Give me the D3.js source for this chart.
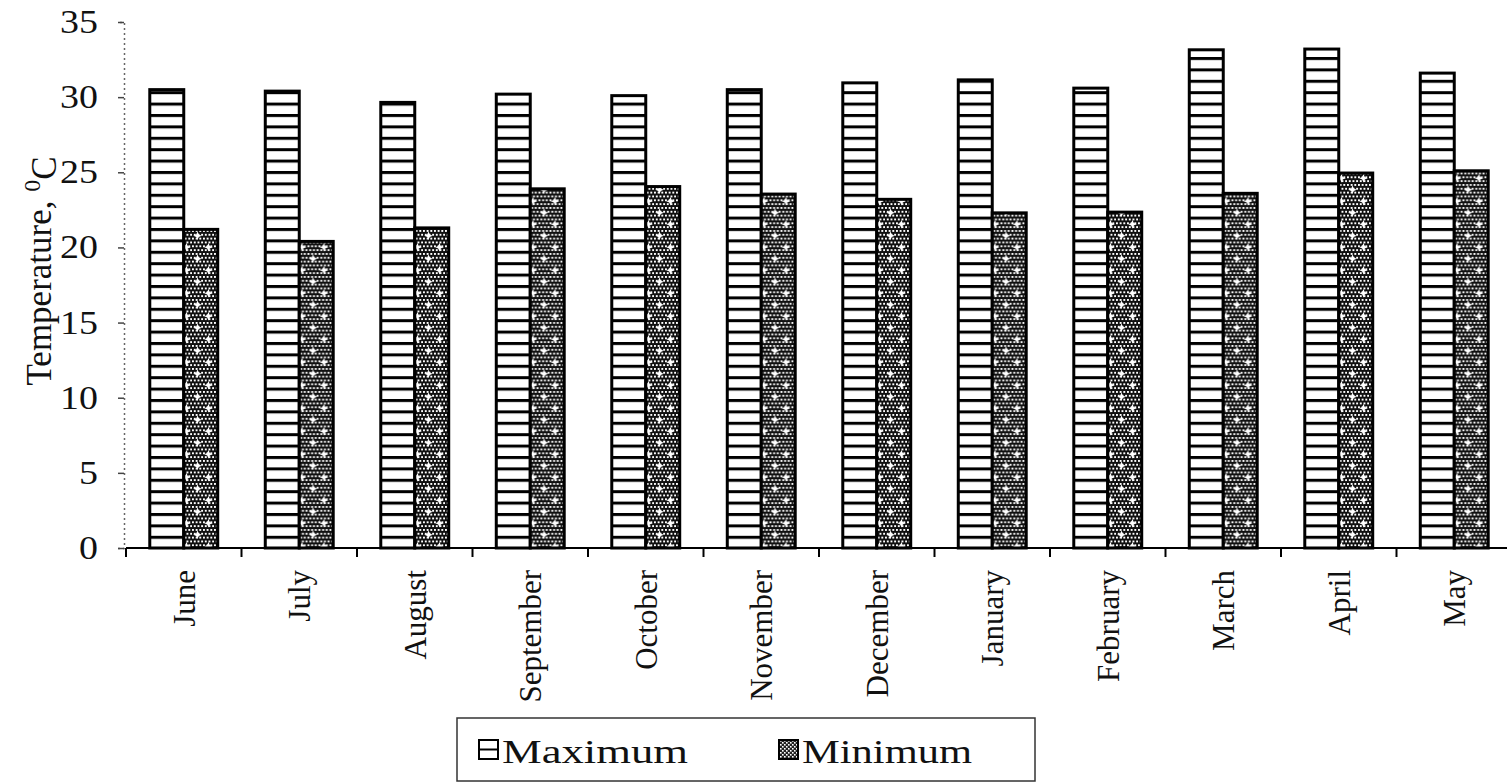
<!DOCTYPE html>
<html>
<head>
<meta charset="utf-8">
<script src="https://cdn.jsdelivr.net/npm/d3@7"></script>
<style>
html,body{margin:0;padding:0;background:#fff;}
svg{display:block;}
text{font-family:"Liberation Serif","Times New Roman",serif;fill:#111;}
</style>
</head>
<body>
<svg id="chart" width="1507" height="784"></svg>
<script>
const months = ["June","July","August","September","October","November","December","January","February","March","April","May"];
const maxTemp = [30.5, 30.4, 29.65, 30.2, 30.1, 30.5, 30.95, 31.15, 30.6, 33.15, 33.2, 31.6];
const minTemp = [21.2, 20.4, 21.3, 23.9, 24.05, 23.55, 23.2, 22.3, 22.35, 23.6, 24.95, 25.1];
const seriesNames = ["Maximum","Minimum"];
const yTicks = [0,5,10,15,20,25,30,35];

const svg = d3.select("#chart");
const defs = svg.append("defs");

// horizontal-stripe pattern (Maximum)
const pMax = defs.append("pattern").attr("id","pMax").attr("patternUnits","userSpaceOnUse")
  .attr("width",10).attr("height",11.4);
pMax.append("rect").attr("width",10).attr("height",11.4).attr("fill","#fff");
pMax.append("rect").attr("x",0).attr("y",0).attr("width",10).attr("height",3).attr("fill","#000");

// dense crosshatch with white stars (Minimum)
const pMin = defs.append("pattern").attr("id","pMin").attr("patternUnits","userSpaceOnUse")
  .attr("width",22).attr("height",23);
pMin.append("rect").attr("width",22).attr("height",23).attr("fill","#101010");
const dots = [];
for (let j=0;j<6;j++) for (let i=0;i<6;i++) dots.push([i*3.667 + (j%2)*1.833, j*3.833]);
pMin.selectAll("rect.d").data(dots).enter().append("rect").attr("class","d")
  .attr("x",d=>d[0]).attr("y",d=>d[1]).attr("width",1.9).attr("height",1.9).attr("fill","#fff");
const star = (cx,cy,r)=>`M${cx},${cy-r} L${cx+1.3},${cy-1.3} L${cx+r},${cy} L${cx+1.3},${cy+1.3} L${cx},${cy+r} L${cx-1.3},${cy+1.3} L${cx-r},${cy} L${cx-1.3},${cy-1.3} Z`;
pMin.append("path").attr("d",star(5.5,5.75,4.2)).attr("fill","#fff");
pMin.append("path").attr("d",star(16.5,17.25,4.2)).attr("fill","#fff");

// legend-size pattern
const lMin = defs.append("pattern").attr("id","lMin").attr("patternUnits","userSpaceOnUse")
  .attr("width",4).attr("height",4);
lMin.append("rect").attr("width",4).attr("height",4).attr("fill","#222");
lMin.append("rect").attr("x",0).attr("y",0).attr("width",1.6).attr("height",1.6).attr("fill","#fff");
lMin.append("rect").attr("x",2).attr("y",2).attr("width",1.6).attr("height",1.6).attr("fill","#fff");

const x0 = 126, step = 115.5;
const x = d3.scaleBand().domain(months).range([x0, x0 + step*months.length]).paddingInner(0).paddingOuter(0);
const xs = d3.scaleBand().domain(seriesNames).range([0, x.bandwidth()]).paddingInner(0).paddingOuter(0.7);
const y = d3.scaleLinear().domain([0,35]).range([548,22]);

const data = months.map((m,i)=>({month:m, values:[{s:"Maximum",v:maxTemp[i]},{s:"Minimum",v:minTemp[i]}]}));

// bars
const g = svg.append("g");
g.selectAll("g.grp").data(data).enter().append("g").attr("class","grp")
  .attr("transform",d=>`translate(${x(d.month)},0)`)
  .selectAll("rect").data(d=>d.values).enter().append("rect")
  .attr("x",d=>xs(d.s)).attr("width",xs.bandwidth())
  .attr("y",d=>y(d.v)).attr("height",d=>y(0)-y(d.v))
  .attr("fill",d=>d.s==="Maximum"?"url(#pMax)":"url(#pMin)")
  .attr("stroke","#000").attr("stroke-width",3);

// y axis
const yAxis = svg.append("g").attr("transform","translate(124,0)")
  .call(d3.axisLeft(y).tickValues(yTicks).tickSize(6).tickPadding(0));
yAxis.select(".domain").attr("stroke","#666").attr("stroke-width",1.5).attr("stroke-dasharray","2,3");
yAxis.selectAll(".tick line").attr("stroke","#444").attr("stroke-width",1.5);
yAxis.selectAll(".tick text")
  .attr("x",0).attr("transform","translate(-26,0) scale(1.15,1)")
  .style("font-family","'Liberation Serif',serif").style("font-size","33px").attr("fill","#111");

// x axis line and boundary ticks
const xAxisG = svg.append("g");
xAxisG.append("line").attr("x1",x0).attr("x2",1507).attr("y1",y(0)).attr("y2",y(0))
  .attr("stroke","#000").attr("stroke-width",2);
const bounds = months.map(m=>x(m));
xAxisG.selectAll("line.tk").data(bounds).enter().append("line").attr("class","tk")
  .attr("x1",d=>d).attr("x2",d=>d).attr("y1",y(0)).attr("y2",y(0)+9)
  .attr("stroke","#000").attr("stroke-width",2);
xAxisG.selectAll("text.lbl").data(months).enter().append("text").attr("class","lbl")
  .attr("transform",d=>`translate(${x(d)+x.bandwidth()/2},570) rotate(-90)`)
  .attr("text-anchor","end").attr("dy","0.35em")
  .style("font-size","31px").text(d=>d);

// y axis title
const yt = svg.append("text").attr("transform","translate(51,271) rotate(-90)")
  .attr("text-anchor","middle").style("font-size","35px");
yt.append("tspan").text("Temperature, ");
yt.append("tspan").attr("dy","-0.45em").style("font-size","24px").text("0");
yt.append("tspan").attr("dy","0.45em").text("C");

// legend
const lg = svg.append("g");
lg.append("rect").attr("x",457).attr("y",718).attr("width",578).attr("height",63)
  .attr("fill","#fff").attr("stroke","#333").attr("stroke-width",1.5);
const items = [{s:"Maximum",x:479,w:186,fill:"url(#pMax)"},{s:"Minimum",x:779,w:170,fill:"url(#lMin)"}];
const li = lg.selectAll("g.li").data(items).enter().append("g").attr("class","li");
li.append("rect").attr("x",d=>d.x).attr("y",740).attr("width",19).attr("height",19)
  .attr("fill","#fff").attr("stroke","#000").attr("stroke-width",2);
li.filter(d=>d.s==="Maximum").append("line").attr("x1",d=>d.x).attr("x2",d=>d.x+19)
  .attr("y1",749.5).attr("y2",749.5).attr("stroke","#000").attr("stroke-width",2);
li.filter(d=>d.s==="Minimum").append("rect").attr("x",d=>d.x+1).attr("y",741).attr("width",17).attr("height",17)
  .attr("fill",d=>d.fill);
li.append("text").attr("x",d=>d.x+23).attr("y",763)
  .attr("textLength",d=>d.w).attr("lengthAdjust","spacingAndGlyphs")
  .style("font-size","34px").text(d=>d.s);
</script>
</body>
</html>
